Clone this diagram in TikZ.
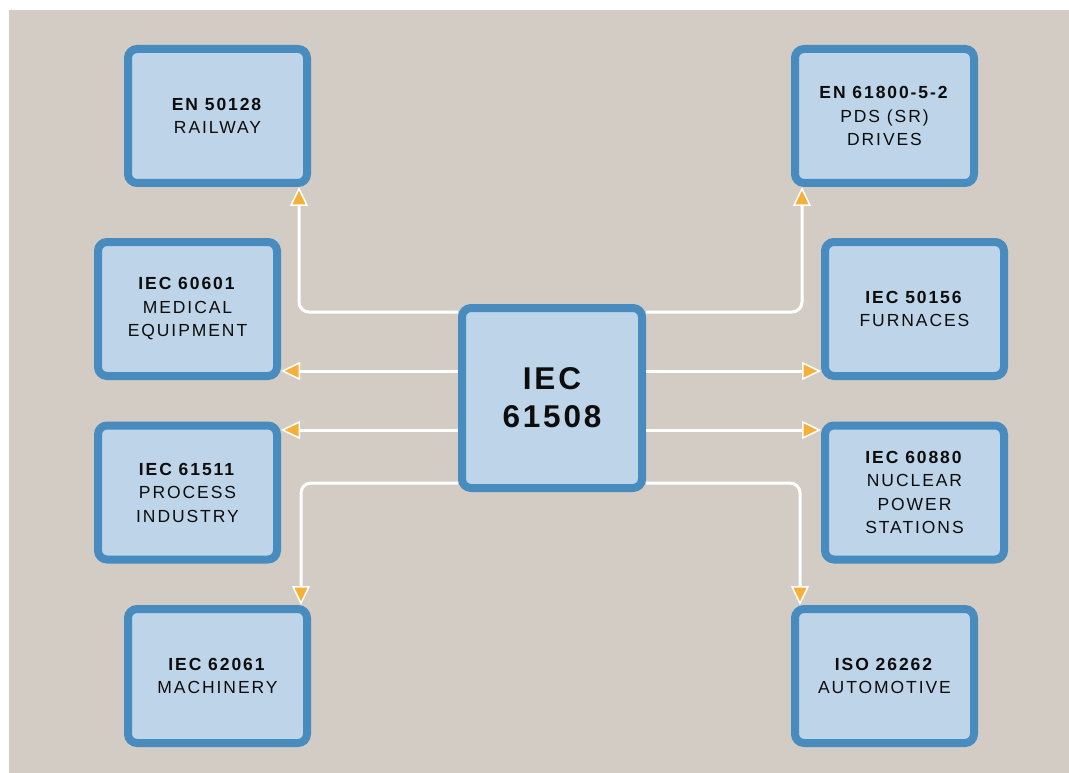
\documentclass[tikz,border=0pt]{standalone}
\usepackage{fontspec}
\newfontfamily\tagfont[LetterSpace=11]{Liberation Sans}
\newfontfamily\hubfont[LetterSpace=9]{Liberation Sans}
\usetikzlibrary{arrows.meta}
\definecolor{sand}{RGB}{211,204,196}
\definecolor{boxfill}{RGB}{190,212,232}
\definecolor{boxline}{RGB}{72,139,191}
\definecolor{tipfill}{RGB}{246,176,58}
\tikzset{
  stdbox/.style={draw=boxline, fill=boxfill, line width=8pt, rounded corners=9pt,
    minimum width=179pt, minimum height=134pt, inner sep=0pt, align=center,
    text=black!95, font=\tagfont\fontsize{17.5}{23.5}\selectfont},
  hubbox/.style={stdbox, minimum width=180pt, minimum height=180pt,
    font=\hubfont\bfseries\fontsize{31.5}{38}\selectfont},
  link/.style={draw=white, line width=3pt, rounded corners=10pt,
    -{Triangle[length=19pt,width=18pt,fill=tipfill,line width=1.5pt]}}
}
\begin{document}
\begin{tikzpicture}[x=1pt, y=1pt, yscale=-1]
\useasboundingbox (0,0) rectangle (1069,773);
\fill[white] (0,0) rectangle (1069,773);
\fill[sand] (9,10) rectangle (1069,773);

% hub
\node[hubbox] (hub) at (552,398) {IEC\\61508};

% left column
\node[stdbox] (rail) at (217.5,116) {\textbf{EN 50128}\\RAILWAY};
\node[stdbox] (medic) at (187.5,309) {\textbf{IEC 60601}\\MEDICAL\\EQUIPMENT};
\node[stdbox] (procs) at (187.5,492.5) {\textbf{IEC 61511}\\PROCESS\\INDUSTRY};
\node[stdbox] (mach) at (217.5,676) {\textbf{IEC 62061}\\MACHINERY};

% right column
\node[stdbox] (drive) at (884.5,116) {\textbf{EN 61800-5-2}\\PDS (SR)\\DRIVES};
\node[stdbox] (furn) at (914.5,309) {\textbf{IEC 50156}\\FURNACES};
\node[stdbox] (nucl) at (914.5,492.5) {\textbf{IEC 60880}\\NUCLEAR\\POWER\\STATIONS};
\node[stdbox] (auto) at (884.5,676) {\textbf{ISO 26262}\\AUTOMOTIVE};

% links
\draw[link] (hub.west |- 0,312) -| ([xshift=-12pt]rail.south east);
\draw[link] (hub.west |- 0,371) -- (medic.east |- 0,371);
\draw[link] (hub.west |- 0,430) -- (procs.east |- 0,430);
\draw[link] (hub.west |- 0,483) -| ([xshift=-10pt]mach.north east);
\draw[link] (hub.east |- 0,312) -| ([xshift=11pt]drive.south west);
\draw[link] (hub.east |- 0,371) -- (furn.west |- 0,371);
\draw[link] (hub.east |- 0,430) -- (nucl.west |- 0,430);
\draw[link] (hub.east |- 0,483) -| ([xshift=9pt]auto.north west);
\end{tikzpicture}
\end{document}
